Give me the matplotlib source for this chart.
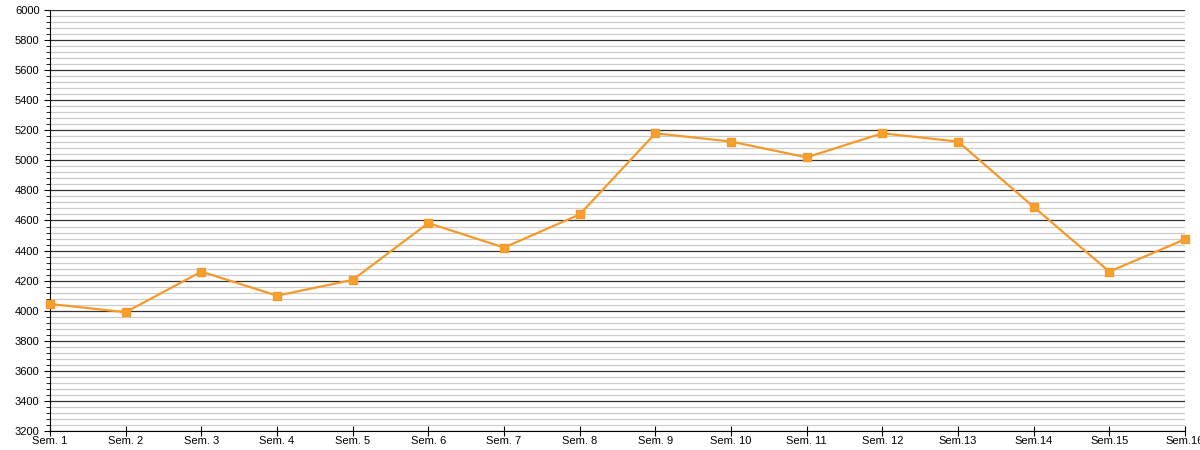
import matplotlib
matplotlib.use("Agg")
import matplotlib.pyplot as plt
from matplotlib.ticker import MultipleLocator

weeks = ["Sem. 1", "Sem. 2", "Sem. 3", "Sem. 4", "Sem. 5", "Sem. 6", "Sem. 7", "Sem. 8",
         "Sem. 9", "Sem. 10", "Sem. 11", "Sem. 12", "Sem.13", "Sem.14", "Sem.15", "Sem.16"]
values = [4045, 3990, 4260, 4100, 4205, 4583, 4420, 4640,
          5180, 5125, 5020, 5180, 5125, 4690, 4260, 4475]

plt.rcParams['font.family'] = ['Liberation Sans', 'DejaVu Sans']

fig = plt.figure(figsize=(12, 4.5), dpi=100)
ax = fig.add_axes([50 / 1200, 19 / 450, 1135 / 1200, 421 / 450])

x = list(range(len(weeks)))
ax.plot(x, values, color='#f59a2a', lw=1.6, marker='s', ms=6, mfc='#f7a02e', mec='#f59a2a',
        clip_on=False, zorder=3)

ax.set_xlim(0, len(weeks) - 1)
ax.set_ylim(3200, 6000)
ax.yaxis.set_major_locator(MultipleLocator(200))
ax.yaxis.set_minor_locator(MultipleLocator(40))
ax.grid(which='major', axis='y', color='#333333', lw=0.9)
ax.grid(which='minor', axis='y', color='#cccccc', lw=0.9)
ax.set_axisbelow(True)

ax.set_xticks(x)
ax.set_xticklabels(weeks, fontsize=8)
ax.tick_params(axis='y', labelsize=8, length=4, color='black')
ax.tick_params(axis='y', which='minor', length=3)
ax.tick_params(axis='x', direction='inout', length=7, pad=0)

for s in ['top', 'right']:
    ax.spines[s].set_visible(False)
ax.spines['left'].set_color('black')
ax.spines['bottom'].set_color('black')

fig.savefig("out.png", dpi=100)
